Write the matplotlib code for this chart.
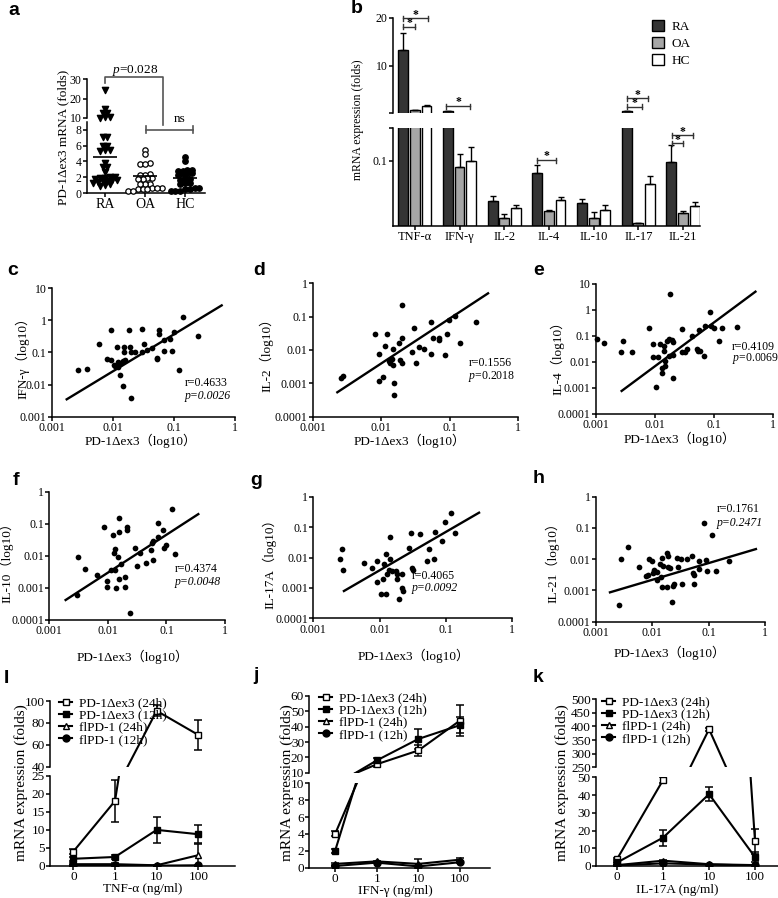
import numpy as np
import matplotlib
matplotlib.use("Agg")
import matplotlib.pyplot as plt
from matplotlib.transforms import Affine2D
from matplotlib.lines import Line2D
from matplotlib.patches import Patch

W, H = 778, 898

# ---------------- data ----------------
# panel a
a_groups = ["RA", "OA", "HC"]
a_ra = [24.5, 14.5, 12.8, 12.5, 10.3, 10.3, 10.2, 7.1, 7.1, 6.0, 5.9, 5.5, 5.4, 5.3,
        3.8, 3.3, 3.3, 2.7, 2.0, 2.0, 1.9, 1.9, 1.8, 1.7, 1.6, 1.5, 1.5, 1.4, 1.3, 1.2, 1.0, 0.9]
a_oa = [5.5, 5.0, 3.8, 3.7, 3.7, 2.4, 2.3, 2.3, 1.9, 1.9, 1.8, 1.8, 1.2, 1.2, 1.1,
        0.6, 0.6, 0.6, 0.5, 0.5, 0.5, 0.3, 0.3]
a_hc = [4.6, 4.1, 2.9, 2.9, 2.8, 2.8, 2.5, 2.4, 2.4, 2.3, 1.8, 1.8, 1.7, 1.3, 1.3, 1.2,
        0.6, 0.6, 0.5, 0.5, 0.3, 0.3, 0.2]
a_lines = [4.6, 2.1, 1.9]

# panel b
b_cats = ["TNF-α", "IFN-γ", "IL-2", "IL-4", "IL-10", "IL-17", "IL-21"]
b_ra = [13.3, 0.6, 0.039, 0.081, 0.035, 0.6, 0.0975]
b_ra_err = [3.6, 0.0, 0.007, 0.013, 0.007, 0.0, 0.026]
b_oa = [0.72, 0.091, 0.013, 0.023, 0.013, 0.005, 0.0195]
b_oa_err = [0.08, 0.019, 0.006, 0.001, 0.008, 0.0, 0.0035]
b_hc = [1.75, 0.1, 0.028, 0.040, 0.0245, 0.065, 0.031]
b_hc_err = [0.12, 0.021, 0.004, 0.005, 0.0075, 0.012, 0.005]

# panels c-h (x = PD-1Δex3, y = cytokine)
c_x = [0.00267, 0.00374, 0.00603, 0.00794, 0.00935, 0.0092, 0.0109, 0.0119, 0.012, 0.0123,
       0.0131, 0.0135, 0.0149, 0.0153, 0.0153, 0.0158, 0.0187, 0.0189, 0.0196, 0.0198,
       0.0231, 0.030, 0.0324, 0.0297, 0.0359, 0.0434, 0.0523, 0.0535, 0.0571, 0.0578,
       0.0698, 0.0698, 0.0865, 0.092, 0.1005, 0.1227, 0.139, 0.245, 0.0149, 0.0105]
c_y = [0.0285, 0.0313, 0.188, 0.0612, 0.48, 0.0583, 0.038, 0.148, 0.0518, 0.0345,
       0.0199, 0.046, 0.0556, 0.099, 0.145, 0.057, 0.50, 0.148, 0.00373, 0.099,
       0.099, 0.527, 0.18, 0.099, 0.12, 0.135, 0.0612, 0.066, 0.5, 0.377,
       0.114, 0.234, 0.257, 0.114, 0.415, 0.0285, 1.25, 0.327, 0.00925, 0.04]
c_fit_x = [0.00176, 0.605]
c_fit_y = [0.00347, 2.88]

d_x = [0.00259, 0.0028, 0.0081, 0.00927, 0.00927, 0.0107, 0.0115, 0.0123, 0.0131, 0.0135,
       0.015, 0.015, 0.0152, 0.0153, 0.0184, 0.0188, 0.0199, 0.0201, 0.0205, 0.0287,
       0.0304, 0.0321, 0.0356, 0.043, 0.0532, 0.0532, 0.0569, 0.0703, 0.0703, 0.087,
       0.092, 0.0984, 0.1205, 0.141, 0.241, 0.0142]
d_y = [0.00141, 0.00166, 0.0295, 0.0074, 0.0012, 0.00158, 0.0135, 0.0295, 0.0048, 0.0042,
       0.011, 0.00355, 0.00105, 0.000437, 0.0158, 0.005, 0.0234, 0.224, 0.004, 0.0089,
       0.0468, 0.004, 0.012, 0.0105, 0.069, 0.0074, 0.0224, 0.02, 0.0234, 0.0069,
       0.0295, 0.079, 0.105, 0.0158, 0.069, 0.0052]
d_fit_x = [0.00229, 0.365]
d_fit_y = [0.00054, 0.50]

e_x = [0.00105, 0.00136, 0.00261, 0.00282, 0.004, 0.00798, 0.0091, 0.0091, 0.01035, 0.01135,
       0.0121, 0.0129, 0.013, 0.0143, 0.0143, 0.0147, 0.0147, 0.0157, 0.0174, 0.0174,
       0.0179, 0.0193, 0.0198, 0.0198, 0.0203, 0.0292, 0.0282, 0.032, 0.0342, 0.0416,
       0.0519, 0.054, 0.0552, 0.057, 0.068, 0.0697, 0.0849, 0.0906, 0.0993, 0.1205,
       0.1374, 0.246]
e_y = [0.0745, 0.0554, 0.0249, 0.0643, 0.0235, 0.209, 0.0478, 0.016, 0.00106, 0.016,
       0.0478, 0.00367, 0.0057, 0.0412, 0.0265, 0.0109, 0.007, 0.0643, 0.0745, 0.0175,
       4.12, 0.07, 0.0025, 0.0186, 0.0605, 0.18, 0.0249, 0.0249, 0.0316, 0.103,
       0.0307, 0.0265, 0.17, 0.027, 0.0175, 0.243, 0.863, 0.243, 0.209, 0.0643,
       0.209, 0.228]
e_fit_x = [0.00272, 0.504]
e_fit_y = [0.00077, 5.07]

f_x = [0.00293, 0.00313, 0.00406, 0.0066, 0.00857, 0.00977, 0.00977, 0.01114, 0.01205, 0.0128,
       0.0135, 0.0137, 0.0132, 0.0151, 0.0156, 0.0156, 0.0156, 0.0165, 0.0196, 0.0196,
       0.0209, 0.0209, 0.0238, 0.029, 0.0315, 0.0353, 0.0442, 0.0537, 0.0556, 0.058,
       0.058, 0.0708, 0.0725, 0.0883, 0.0916, 0.0994, 0.1227, 0.14]
f_y = [0.0006, 0.0094, 0.0038, 0.00253, 0.0773, 0.00168, 0.00109, 0.00362, 0.0446, 0.01255,
       0.016, 0.00097, 0.00362, 0.009, 0.1476, 0.0567, 0.00185, 0.0054, 0.00214, 0.00109,
       0.081, 0.064, 0.00017, 0.018, 0.00494, 0.012, 0.00583, 0.0152, 0.0245, 0.0297,
       0.0074, 0.108, 0.0377, 0.0638, 0.0171, 0.0218, 0.288, 0.0114]
f_fit_x = [0.0019, 0.35]
f_fit_y = [0.00042, 0.2]

g_x = [0.00252, 0.00273, 0.00276, 0.00588, 0.00783, 0.009, 0.009, 0.0105, 0.0111, 0.0116,
       0.01244, 0.0127, 0.013, 0.014, 0.0143, 0.0146, 0.0152, 0.0176, 0.0181, 0.0186,
       0.0195, 0.0216, 0.0222, 0.023, 0.0277, 0.0294, 0.0311, 0.032, 0.0415, 0.0512,
       0.0554, 0.0667, 0.068, 0.089, 0.0962, 0.1188, 0.137]
g_y = [0.00893, 0.0186, 0.00388, 0.00676, 0.0044, 0.00767, 0.0016, 0.000615, 0.00191, 0.00596,
       0.000615, 0.0127, 0.0028, 0.00388, 0.0087, 0.0484, 0.0035, 0.0035, 0.00191, 0.0028,
       0.00043, 0.0028, 0.00097, 0.00081, 0.02, 0.0655, 0.0044, 0.0039, 0.0593, 0.00767,
       0.0186, 0.0087, 0.0707, 0.0357, 0.1508, 0.298, 0.0623]
g_fit_x = [0.0029, 0.318]
g_fit_y = [0.00079, 0.298]

h_x = [0.00259, 0.00278, 0.00365, 0.00588, 0.00773, 0.0083, 0.00885, 0.0097, 0.0104, 0.0108,
       0.0119, 0.0123, 0.0137, 0.0142, 0.0146, 0.0157, 0.015, 0.018, 0.018, 0.0187,
       0.0192, 0.0206, 0.022, 0.0229, 0.0242, 0.0278, 0.0288, 0.0318, 0.0341, 0.0418,
       0.0513, 0.052, 0.055, 0.055, 0.0673, 0.0673, 0.0826, 0.0894, 0.094, 0.116,
       0.135, 0.233]
h_y = [0.00034, 0.0099, 0.0239, 0.00548, 0.00296, 0.0031, 0.0099, 0.00895, 0.00352, 0.0045,
       0.00215, 0.004, 0.007, 0.00262, 0.0106, 0.006, 0.00132, 0.00132, 0.0154, 0.0057,
       0.0126, 0.00534, 0.00044, 0.00138, 0.00157, 0.0106, 0.0058, 0.0099, 0.00161, 0.0099,
       0.0126, 0.00352, 0.0031, 0.00161, 0.0087, 0.00473, 0.147, 0.0094, 0.0043, 0.0593,
       0.0043, 0.0087]
h_fit_x = [0.00177, 0.69]
h_fit_y = [0.00087, 0.0211]

# panels i-k
doses = ["0", "1", "10", "100"]
series_names = ["PD-1Δex3 (24h)", "PD-1Δex3 (12h)", "flPD-1 (24h)", "flPD-1 (12h)"]

i_vals = [[4.0, 18.0, 91.0, 69.0], [2.0, 2.5, 10.0, 8.8], [0.5, 0.5, 0.2, 3.0], [0.2, 0.2, 0.1, 0.2]]
i_errs = [[0.6, 5.7, 5.0, 14.0], [0.5, 0.6, 3.5, 2.5], [0.2, 0.2, 0.2, 3.0], [0.1, 0.1, 0.1, 0.1]]
j_vals = [[4.0, 15.5, 24.5, 44.0], [2.0, 18.0, 32.0, 41.0], [0.45, 0.75, 0.45, 0.95], [0.2, 0.6, 0.15, 0.65]]
j_errs = [[0.3, 1.5, 3.5, 10.0], [0.2, 1.5, 6.5, 5.0], [0.1, 0.1, 0.55, 0.15], [0.05, 0.1, 0.1, 0.1]]
k_vals = [[4.0, 48.5, 390.0, 14.0], [2.0, 16.0, 40.5, 5.0], [0.5, 3.0, 1.0, 0.5], [0.3, 1.5, 0.8, 0.3]]
k_errs = [[0.5, 1.5, 6.0, 7.0], [0.3, 4.5, 4.0, 3.0], [0.2, 0.5, 0.3, 0.2], [0.1, 0.3, 0.2, 0.1]]

# ---------------- style ----------------
plt.rcParams['font.family'] = ['Liberation Serif', 'Noto Sans CJK SC']
plt.rcParams['mathtext.fontset'] = 'custom'
plt.rcParams['mathtext.rm'] = 'Liberation Serif'
plt.rcParams['mathtext.it'] = 'Liberation Serif:italic'
plt.rcParams['axes.linewidth'] = 1.1
for k in ('xtick', 'ytick'):
    plt.rcParams[k + '.direction'] = 'out'
    plt.rcParams[k + '.major.size'] = 2.8
    plt.rcParams[k + '.major.width'] = 1.1
    plt.rcParams[k + '.major.pad'] = 1.0

fig = plt.figure(figsize=(W / 100, H / 100), dpi=100)
PX = Affine2D().scale(1 / W, -1 / H).translate(0, 1) + fig.transFigure


def add_ax(x0, y0, x1, y1, bottom=True):
    ax = fig.add_axes([x0 / W, 1 - y1 / H, (x1 - x0) / W, (y1 - y0) / H])
    ax.patch.set_alpha(0)
    ax.spines['top'].set_visible(False)
    ax.spines['right'].set_visible(False)
    if not bottom:
        ax.spines['bottom'].set_visible(False)
        ax.tick_params(bottom=False, labelbottom=False)
    return ax


def ftext(x, y, s, **kw):
    fig.text(x, y, s, transform=PX, **kw)


def fline(xs, ys, color='black', lw=1.0):
    fig.add_artist(Line2D(xs, ys, transform=PX, color=color, lw=lw))


def swarm(vals, tol, step):
    vals = np.asarray(vals, float)
    order = np.argsort(vals)
    offs = np.zeros(len(vals))
    groups, cur = [], [order[0]]
    for idx in order[1:]:
        if vals[idx] - vals[cur[0]] < tol(vals[cur[0]]):
            cur.append(idx)
        else:
            groups.append(cur)
            cur = [idx]
    groups.append(cur)
    for g in groups:
        n = len(g)
        offs[g] = (np.arange(n) - (n - 1) / 2) * step
    return offs


# ---------------- panel letters ----------------
for lab, x, y in [("a", 8, 15), ("b", 351, 13), ("c", 7, 275), ("d", 253, 275), ("e", 533, 275),
                  ("f", 13, 485), ("g", 250, 485), ("h", 533, 483), ("I", 4, 683),
                  ("j", 253, 680), ("k", 533, 682)]:
    ftext(x, y, lab, family='Liberation Sans', fontweight='bold', fontsize=14, va='baseline')

# ---------------- panel a ----------------
ax_au = add_ax(87, 79, 205, 118, bottom=False)
ax_al = add_ax(87, 122, 205, 193)
tol = lambda v: 0.4 if v < 9 else 1.5
styles = [dict(marker='v', s=20, facecolor='black', edgecolor='black'),
          dict(marker='o', s=15, facecolor='white', edgecolor='black', linewidths=0.9),
          dict(marker='o', s=15, facecolor='black', edgecolor='black')]
for gi, (vals, st) in enumerate(zip([a_ra, a_oa, a_hc], styles)):
    xpos = gi + 1 + swarm(vals, tol, 0.12)
    vals = np.asarray(vals)
    hi = vals >= 10
    ax_au.scatter(xpos[hi], vals[hi], clip_on=False, zorder=3, **st)
    ax_al.scatter(xpos[~hi], vals[~hi], clip_on=False, zorder=3, **st)
    ax_al.hlines(a_lines[gi], gi + 1 - 0.3, gi + 1 + 0.3, color='black', lw=1.2, zorder=4)
for ax in (ax_au, ax_al):
    ax.set_xlim(0.55, 3.5)
ax_au.set_ylim(10, 30)
ax_au.set_yticks([10, 20, 30])
ax_al.set_ylim(0, 9)
ax_al.set_yticks([0, 2, 4, 6, 8])
ax_al.set_xticks([1, 2, 3])
ax_al.set_xticklabels(a_groups, fontsize=10)
for ax in (ax_au, ax_al):
    ax.tick_params(axis='y', labelsize=8.5)
ftext(63, 137, "PD-1Δex3 mRNA (folds)", rotation=90, ha='center', va='center', fontsize=9.5)
fline([105, 105, 163, 163], [83, 77, 77, 125], color='#555555', lw=1.2)
ftext(135, 73, "$p$=0.028", ha='center', va='baseline', fontsize=9.5)
fline([146, 146], [126, 133], color='#555555', lw=1.2)
fline([193, 193], [126, 133], color='#555555', lw=1.2)
fline([146, 193], [130, 130], color='#555555', lw=1.2)
ftext(180, 122, "ns", ha='center', va='baseline', fontsize=9.5)

# ---------------- panel b ----------------
ax_bu = add_ax(393, 17.7, 700, 112.5, bottom=False)
ax_bl = add_ax(393, 128, 700, 226)
xb = np.arange(len(b_cats))
bw, off = 0.22, 0.26
b_colors = ['#353535', '#a6a6a6', 'white']
up_lo = 0.3
for ax in (ax_bu, ax_bl):
    for k, (vals, errs, col) in enumerate(zip([b_ra, b_oa, b_hc], [b_ra_err, b_oa_err, b_hc_err], b_colors)):
        vals = np.asarray(vals, float)
        errs = np.asarray(errs, float)
        if ax is ax_bu:
            # bars lying wholly below the axis break are not drawn in the upper segment
            keep = vals > up_lo
            vals = np.where(keep, vals, np.nan)
            errs = np.where(keep, errs, np.nan)
        ax.bar(xb + (k - 1) * off, vals, bw, color=col, edgecolor='black', lw=1,
               yerr=[np.zeros(len(errs)), errs], capsize=2.5,
               error_kw=dict(lw=1, capthick=1, ecolor='black'))
    ax.set_xlim(-0.49, 6.38)
ax_bu.set_ylim(up_lo, 20)
ax_bu.set_yticks([up_lo, 10, 20])
ax_bu.set_yticklabels(["", "10", "20"])
ax_bl.set_ylim(0, 0.15)
ax_bl.set_yticks([0.1, 0.15])
ax_bl.set_yticklabels(["0.1", ""])
ax_bl.set_xticks(xb)
ax_bl.set_xticklabels(b_cats, fontsize=9)
for ax in (ax_bu, ax_bl):
    ax.tick_params(axis='y', labelsize=8.5)
ax_bu.legend([Patch(facecolor=c, edgecolor='black', lw=1) for c in b_colors], ["RA", "OA", "HC"],
             loc='upper left', bbox_to_anchor=(652 / W, 1 - 20 / H), bbox_transform=fig.transFigure,
             frameon=False, fontsize=9.5, handlelength=0.9, handleheight=0.9, handletextpad=0.6,
             labelspacing=0.3, borderpad=0, borderaxespad=0)
ftext(358, 120, "mRNA expression (folds)", rotation=90, ha='center', va='center', fontsize=8.5)


def star_bracket(x0, x1, y):
    fline([x0, x1], [y, y], color='#333333', lw=1.0)
    fline([x0, x0], [y - 2.5, y + 2.5], color='#333333', lw=1.0)
    fline([x1, x1], [y - 2.5, y + 2.5], color='#333333', lw=1.0)
    ftext((x0 + x1) / 2, y - 0.5, "*", ha='center', va='baseline', fontsize=8.5, fontweight='bold')


for x0, x1, y in [(403, 415, 26.7), (403, 428, 18.3), (446, 470, 106), (537, 556, 160),
                  (627, 642, 106.7), (627, 648, 98.3), (672, 683, 143.3), (672, 693, 135)]:
    star_bracket(x0, x1, y)


# ---------------- panels c-h ----------------
def scatter_panel(box, xs, ys, fx, fy, ylim, ylab, rtxt, ptxt, tpos, xlab_c, ylab_c):
    ax = add_ax(*box)
    ax.set_xscale('log')
    ax.set_yscale('log')
    ax.scatter(xs, ys, s=17, color='black', clip_on=False, zorder=3, linewidths=0)
    ax.plot(fx, fy, color='black', lw=1.7)
    ax.set_xlim(1e-3, 1)
    ax.set_ylim(*ylim)
    xt = [1e-3, 1e-2, 1e-1, 1]
    n = int(round(np.log10(ylim[1]) - np.log10(ylim[0]))) + 1
    yt = np.logspace(np.log10(ylim[0]), np.log10(ylim[1]), n)
    ax.set_xticks(xt)
    ax.set_xticklabels([f"{v:g}" for v in xt])
    ax.set_yticks(yt)
    ax.set_yticklabels([f"{v:.4g}" for v in yt])
    ax.minorticks_off()
    ax.tick_params(labelsize=8.5)
    ax.text(tpos[0], tpos[1], rtxt, transform=ax.transAxes, fontsize=8.5, va='center')
    ax.text(tpos[0], tpos[2], ptxt[0], transform=ax.transAxes, fontsize=8.5, va='center', style=ptxt[1])
    ftext(xlab_c[0], xlab_c[1], "PD-1Δex3（log10）", ha='center', va='center', fontsize=9.5)
    ftext(ylab_c[0], ylab_c[1], ylab, ha='center', va='center', fontsize=9.5, rotation=90)
    return ax


scatter_panel((51.7, 288, 235, 416.7), c_x, c_y, c_fit_x, c_fit_y, (1e-3, 10), "IFN-γ（log10）",
              "r=0.4633", ("p=0.0026", 'italic'), (0.727, 0.26, 0.16), (141, 441), (22, 355))
scatter_panel((312.7, 283.3, 518, 416.7), d_x, d_y, d_fit_x, d_fit_y, (1e-4, 1), "IL-2（log10）",
              "r=0.1556", ("$p$=0.2018", 'normal'), (0.758, 0.40, 0.305), (410, 441), (266, 352))
scatter_panel((596, 284, 773, 414), e_x, e_y, e_fit_x, e_fit_y, (1e-4, 10), "IL-4（log10）",
              "r=0.4109", ("$p$=0.0069", 'normal'), (0.77, 0.513, 0.428), (680, 439), (557, 355))
scatter_panel((49.3, 491.7, 225, 620), f_x, f_y, f_fit_x, f_fit_y, (1e-4, 1), "IL-10（log10）",
              "r=0.4374", ("p=0.0048", 'italic'), (0.715, 0.395, 0.294), (133, 657), (6, 559))
scatter_panel((313.3, 496.7, 512, 618.3), g_x, g_y, g_fit_x, g_fit_y, (1e-4, 1), "IL-17A（log10）",
              "r=0.4065", ("p=0.0092", 'italic'), (0.495, 0.35, 0.247), (414, 656), (269, 561))
scatter_panel((596, 496.7, 765, 621.7), h_x, h_y, h_fit_x, h_fit_y, (1e-4, 1), "IL-21（log10）",
              "r=0.1761", ("p=0.2471", 'italic'), (0.714, 0.90, 0.787), (670, 653), (552, 559))

# ---------------- panels i-k ----------------
markers = [dict(marker='s', mfc='white'), dict(marker='s', mfc='black'),
           dict(marker='^', mfc='white'), dict(marker='o', mfc='black')]


def dose_panel(up_box, lo_box, xlim, up_lim, up_ticks, lo_lim, lo_ticks, vals, errs,
               xlab, xlab_c, ylab_c, leg_xy):
    ax_u = add_ax(*up_box, bottom=False)
    ax_l = add_ax(*lo_box)
    x = np.arange(len(doses))
    for ax in (ax_u, ax_l):
        for v, e, m in zip(vals, errs, markers):
            ax.errorbar(x, v, yerr=e, color='black', mec='black', ms=5, lw=1.5,
                        elinewidth=1.1, capsize=2.8, capthick=1.1, **m)
        ax.set_xlim(*xlim)
        ax.tick_params(axis='y', labelsize=9.5)
    ax_u.set_ylim(*up_lim)
    ax_u.set_yticks(up_ticks)
    ax_l.set_ylim(*lo_lim)
    ax_l.set_yticks(lo_ticks)
    ax_l.set_xticks(x)
    ax_l.set_xticklabels(doses, fontsize=9.5)
    handles = [Line2D([], [], color='black', lw=1.5, ms=5, mec='black', **m) for m in markers]
    ax_u.legend(handles, series_names, loc='upper left',
                bbox_to_anchor=(leg_xy[0] / W, 1 - leg_xy[1] / H), bbox_transform=fig.transFigure,
                frameon=False, fontsize=9.5, handlelength=1.0, handletextpad=0.5,
                labelspacing=0.0, borderpad=0, borderaxespad=0)
    ftext(xlab_c[0], xlab_c[1], xlab, ha='center', va='center', fontsize=9.5)
    ftext(ylab_c[0], ylab_c[1], "mRNA expression (folds)", rotation=90, ha='center', va='center',
          fontsize=11)


dose_panel((50, 701, 235, 766.7), (50, 775.7, 235, 866), (-0.56, 3.88),
           (40, 100), [40, 60, 80, 100], (0, 25), [0, 5, 10, 15, 20, 25],
           i_vals, i_errs, "TNF-α (ng/ml)", (143, 889), (21, 783), (59, 697))
dose_panel((309.3, 696, 490, 772.7), (309.3, 783.3, 490, 867.7), (-0.62, 3.72),
           (10, 60), [10, 20, 30, 40, 50, 60], (0, 10), [0, 2, 4, 6, 8, 10],
           j_vals, j_errs, "IFN-γ (ng/ml)", (395, 891), (287, 783), (319, 692))
dose_panel((596, 699.3, 778, 767.3), (596, 777.3, 778, 866), (-0.46, 3.5),
           (250, 500), [250, 300, 350, 400, 450, 500], (0, 50), [0, 10, 20, 30, 40, 50],
           k_vals, k_errs, "IL-17A (ng/ml)", (677, 890), (562, 783), (602, 696))

fig.savefig("out.png", dpi=100)
